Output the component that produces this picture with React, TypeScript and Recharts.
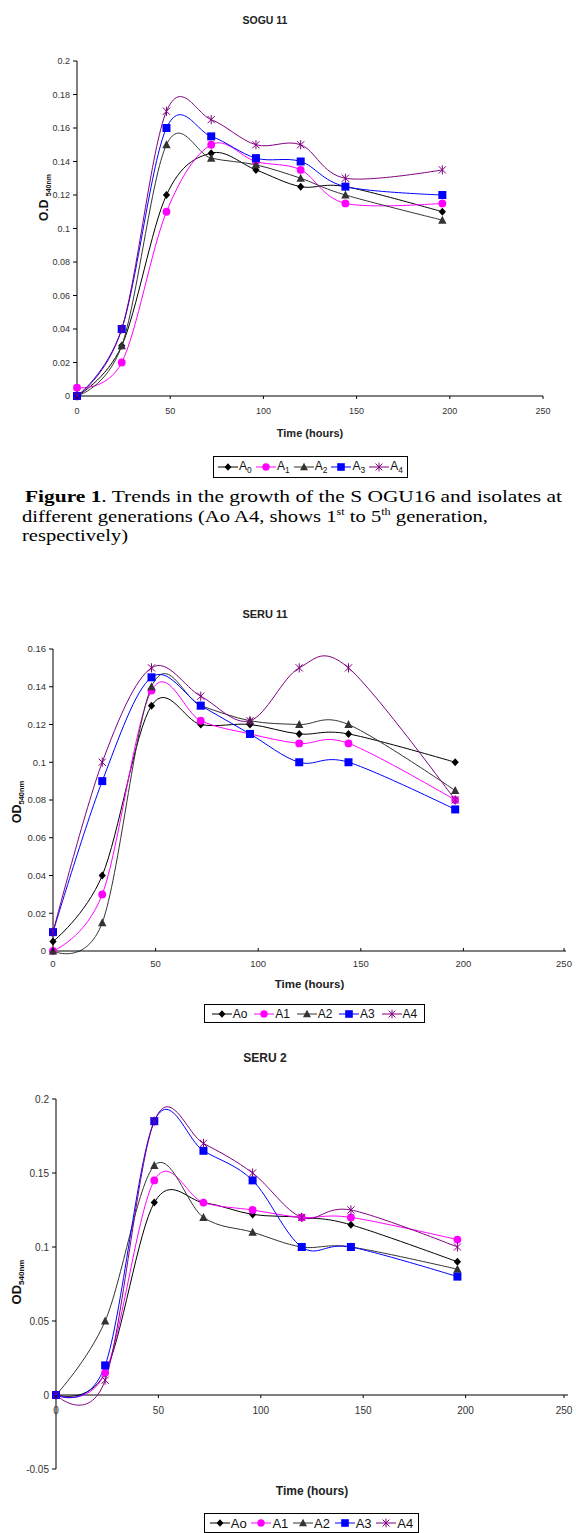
import React from "react";
import { LineChart, Line, XAxis, YAxis, ReferenceLine } from "recharts";

// sampling times (hours), shared by all three panels
const hours = [0, 24, 48, 72, 96, 120, 144, 196];
const xTicks = [0, 50, 100, 150, 200, 250];

// SOGU 11
const soguA0 = [0, 0.03, 0.12, 0.145, 0.135, 0.125, 0.125, 0.11];
const soguA1 = [0.005, 0.02, 0.11, 0.15, 0.14, 0.135, 0.115, 0.115];
const soguA2 = [0, 0.03, 0.15, 0.142, 0.138, 0.13, 0.12, 0.105];
const soguA3 = [0, 0.04, 0.16, 0.155, 0.142, 0.14, 0.125, 0.12];
const soguA4 = [0, 0.04, 0.17, 0.165, 0.15, 0.15, 0.13, 0.135];
const soguTicks = [0, 0.02, 0.04, 0.06, 0.08, 0.1, 0.12, 0.14, 0.16, 0.18, 0.2];

// SERU 11
const seru11A0 = [0.005, 0.04, 0.13, 0.12, 0.12, 0.115, 0.115, 0.1];
const seru11A1 = [0, 0.03, 0.138, 0.122, 0.115, 0.11, 0.11, 0.08];
const seru11A2 = [0, 0.015, 0.14, 0.13, 0.122, 0.12, 0.12, 0.085];
const seru11A3 = [0.01, 0.09, 0.145, 0.13, 0.115, 0.1, 0.1, 0.075];
const seru11A4 = [0.01, 0.1, 0.15, 0.135, 0.122, 0.15, 0.15, 0.08];
const seru11Ticks = [0, 0.02, 0.04, 0.06, 0.08, 0.1, 0.12, 0.14, 0.16];

// SERU 2
const seru2A0 = [0, 0.015, 0.13, 0.13, 0.122, 0.12, 0.115, 0.09];
const seru2A1 = [0, 0.015, 0.145, 0.13, 0.125, 0.12, 0.12, 0.105];
const seru2A2 = [0, 0.05, 0.155, 0.12, 0.11, 0.1, 0.1, 0.085];
const seru2A3 = [0, 0.02, 0.185, 0.165, 0.145, 0.1, 0.1, 0.08];
const seru2A4 = [0, 0.01, 0.185, 0.17, 0.15, 0.12, 0.125, 0.1];
const seru2Ticks = [-0.05, 0, 0.05, 0.1, 0.15, 0.2];

const seriesKeys = ["A0", "A1", "A2", "A3", "A4"];
const colors: Record<string, string> = {
  A0: "#000000",
  A1: "#FF00FF",
  A2: "#333333",
  A3: "#0000FF",
  A4: "#800080",
};

function buildRows(a0: number[], a1: number[], a2: number[], a3: number[], a4: number[]) {
  return hours.map((t, i) => ({ t, A0: a0[i], A1: a1[i], A2: a2[i], A3: a3[i], A4: a4[i] }));
}

// Excel style smoothed line (Catmull-Rom through bezier segments)
class SmoothCurve {
  _context: any;
  _k = 1 / 6;
  _line = NaN;
  _point = 0;
  _x0 = NaN; _x1 = NaN; _x2 = NaN;
  _y0 = NaN; _y1 = NaN; _y2 = NaN;
  constructor(context: any) {
    this._context = context;
  }
  areaStart() { this._line = 0; }
  areaEnd() { this._line = NaN; }
  lineStart() {
    this._x0 = this._x1 = this._x2 = this._y0 = this._y1 = this._y2 = NaN;
    this._point = 0;
  }
  seg(x: number, y: number) {
    this._context.bezierCurveTo(
      this._x1 + this._k * (this._x2 - this._x0),
      this._y1 + this._k * (this._y2 - this._y0),
      this._x2 + this._k * (this._x1 - x),
      this._y2 + this._k * (this._y1 - y),
      this._x2,
      this._y2
    );
  }
  lineEnd() {
    if (this._point === 2) this._context.lineTo(this._x2, this._y2);
    else if (this._point === 3) this.seg(this._x1, this._y1);
    if (this._line || (this._line !== 0 && this._point === 1)) this._context.closePath();
    this._line = 1 - this._line;
  }
  point(x: number, y: number) {
    x = +x; y = +y;
    if (this._point === 0) {
      this._point = 1;
      this._line ? this._context.lineTo(x, y) : this._context.moveTo(x, y);
    } else if (this._point === 1) {
      this._point = 2;
      this._x1 = x; this._y1 = y;
    } else {
      this._point = 3;
      this.seg(x, y);
    }
    this._x0 = this._x1; this._x1 = this._x2; this._x2 = x;
    this._y0 = this._y1; this._y1 = this._y2; this._y2 = y;
  }
}
const smooth: any = (context: any) => new SmoothCurve(context);

function Marker({ kind, cx, cy, s = 1 }: { kind: string; cx: number; cy: number; s?: number }) {
  const c = colors[kind];
  if (kind === "A0")
    return <polygon points={`${cx},${cy - 4 * s} ${cx + 3.6 * s},${cy} ${cx},${cy + 4 * s} ${cx - 3.6 * s},${cy}`} fill={c} />;
  if (kind === "A1") return <circle cx={cx} cy={cy} r={3.9 * s} fill={c} />;
  if (kind === "A2")
    return <polygon points={`${cx},${cy - 4.5 * s} ${cx + 4.2 * s},${cy + 3.5 * s} ${cx - 4.2 * s},${cy + 3.5 * s}`} fill={c} />;
  if (kind === "A3") return <rect x={cx - 4 * s} y={cy - 4 * s} width={8 * s} height={8 * s} fill={c} />;
  const r = 3.6 * s;
  return (
    <path
      d={`M${cx - r},${cy - r}L${cx + r},${cy + r}M${cx - r},${cy + r}L${cx + r},${cy - r}M${cx},${cy - 4.6 * s}L${cx},${cy + 4.6 * s}`}
      stroke={c}
      strokeWidth={1}
      fill="none"
    />
  );
}

type PanelProps = {
  top: number;
  height: number;
  title: string;
  titleY: number;
  titleSize: number;
  data: any[];
  yTicks: number[];
  yDomain: [number, number];
  yAxisWidth: number;
  margin: { top: number; right: number; left: number; bottom: number };
  font: string;
  tickSize: number;
  plotHeight: number;
  xTickDir: number;
  xLabelGap: number;
  xTitleGap: number;
  yTitleX: number;
  yTitleMain: string;
  yTitleSub: string;
  yTitleShift: number;
  legendLabels: React.ReactNode[];
  legendBox: { left: number; top: number; width: number; height: number; fontSize: number };
};

function Panel(p: PanelProps) {
  // x axis sits on the zero line, which is above the plot bottom when the domain goes negative
  const shift = (p.plotHeight * (0 - p.yDomain[0])) / (p.yDomain[1] - p.yDomain[0]);

  const XTick = (props: any) => {
    const { x, y, payload } = props;
    const y0 = y - shift;
    return (
      <g>
        <line x1={x} x2={x} y1={y0} y2={y0 + p.xTickDir * 3} stroke="#000" />
        <text x={x} y={y0 + p.xLabelGap} textAnchor="middle" fontSize={p.tickSize} fontFamily={p.font} fill="#333">
          {payload.value}
        </text>
      </g>
    );
  };

  return (
    <div style={{ position: "absolute", left: 0, top: p.top, width: 576, height: p.height }}>
      <div
        style={{
          position: "absolute",
          left: 0,
          width: 530,
          top: p.titleY - p.titleSize * 0.6,
          textAlign: "center",
          fontFamily: p.font,
          fontWeight: "bold",
          fontSize: p.titleSize,
          lineHeight: `${p.titleSize * 1.2}px`,
          color: "#222",
        }}
      >
        {p.title}
      </div>
      <LineChart width={576} height={p.height} data={p.data} margin={p.margin}>
        <XAxis
          dataKey="t"
          type="number"
          domain={[0, 250]}
          ticks={xTicks}
          height={30}
          tickSize={0}
          tickMargin={0}
          tickLine={false}
          axisLine={shift === 0 ? { stroke: "#000" } : false}
          tick={XTick}
          label={{
            content: ({ viewBox }: any) => (
              <text
                x={viewBox.x + viewBox.width / 2}
                y={viewBox.y + p.xTitleGap}
                textAnchor="middle"
                fontFamily={p.font}
                fontWeight="bold"
                fontSize={p.tickSize + 2}
                fill="#222"
              >
                Time (hours)
              </text>
            ),
          }}
        />
        <YAxis
          type="number"
          domain={p.yDomain}
          ticks={p.yTicks}
          width={p.yAxisWidth}
          interval={0}
          tickSize={4}
          tickMargin={3}
          axisLine={{ stroke: "#000" }}
          tickLine={{ stroke: "#000" }}
          tick={{ fontSize: p.tickSize, fontFamily: p.font, fill: "#333" }}
          label={{
            content: ({ viewBox }: any) => {
              const cy = viewBox.y + viewBox.height / 2 + p.yTitleShift;
              return (
                <text
                  x={p.yTitleX}
                  y={cy}
                  transform={`rotate(-90, ${p.yTitleX}, ${cy})`}
                  textAnchor="middle"
                  fontFamily={p.font}
                  fontWeight="bold"
                  fontSize={p.tickSize + 3}
                  fill="#111"
                >
                  {p.yTitleMain}
                  <tspan fontSize={p.tickSize - 2} dy={3}>
                    {p.yTitleSub}
                  </tspan>
                </text>
              );
            },
          }}
        />
        {shift > 0 && <ReferenceLine y={0} stroke="#000" />}
        {seriesKeys.map((k) => (
          <Line
            key={k}
            dataKey={k}
            type={smooth}
            stroke={colors[k]}
            strokeWidth={1}
            isAnimationActive={false}
            activeDot={false}
            dot={(d: any) => <Marker key={`${k}-${d.index}`} kind={k} cx={d.cx} cy={d.cy} />}
          />
        ))}
      </LineChart>
      <div
        style={{
          position: "absolute",
          left: p.legendBox.left,
          top: p.legendBox.top,
          width: p.legendBox.width,
          height: p.legendBox.height,
          boxSizing: "border-box",
          border: "1px solid #000",
          display: "flex",
          alignItems: "center",
          justifyContent: "space-evenly",
          fontFamily: p.font,
          fontSize: p.legendBox.fontSize,
          color: "#111",
        }}
      >
        {seriesKeys.map((k, i) => (
          <span key={k} style={{ display: "flex", alignItems: "center" }}>
            <svg width={20} height={12}>
              <line x1={0} x2={20} y1={6} y2={6} stroke={colors[k]} />
              <Marker kind={k} cx={10} cy={6} s={0.95} />
            </svg>
            <span style={{ marginLeft: 1 }}>{p.legendLabels[i]}</span>
          </span>
        ))}
      </div>
    </div>
  );
}

const sans = "'Liberation Sans', Arial, sans-serif";
const serif = "'Liberation Serif', 'Times New Roman', serif";

const subLabels = seriesKeys.map((k) => (
  <span key={k}>
    A<sub style={{ fontSize: "0.7em" }}>{k.slice(1)}</sub>
  </span>
));
const plainLabels = ["Ao", "A1", "A2", "A3", "A4"];

function Caption() {
  return (
    <svg width={576} height={70} style={{ position: "absolute", left: 0, top: 480 }}>
      <text x={25} y={22} fontFamily={serif} fontSize={17} textLength={537} lengthAdjust="spacingAndGlyphs">
        <tspan fontWeight="bold">Figure 1</tspan>. Trends in the growth of the S OGU16 and isolates at
      </text>
      <text x={22} y={41.5} fontFamily={serif} fontSize={17} textLength={466} lengthAdjust="spacingAndGlyphs">
        different generations (Ao A4, shows 1
        <tspan fontSize={10} dy={-7}>st</tspan>
        <tspan dy={7}> to 5</tspan>
        <tspan fontSize={10} dy={-7}>th</tspan>
        <tspan dy={7}> generation,</tspan>
      </text>
      <text x={22} y={61} fontFamily={serif} fontSize={17} textLength={106} lengthAdjust="spacingAndGlyphs">
        respectively)
      </text>
    </svg>
  );
}

export default function App() {
  return (
    <div style={{ position: "absolute", left: 0, top: 0, width: 576, height: 1533, background: "#fff" }}>
      <Panel
        top={0}
        height={480}
        title="SOGU 11"
        titleY={20}
        titleSize={10.5}
        data={buildRows(soguA0, soguA1, soguA2, soguA3, soguA4)}
        yTicks={soguTicks}
        yDomain={[0, 0.2]}
        yAxisWidth={77}
        margin={{ top: 61, right: 33, left: 0, bottom: 54 }}
        plotHeight={335}
        font={sans}
        tickSize={9}
        xTickDir={1}
        xLabelGap={18}
        xTitleGap={41}
        yTitleX={48}
        yTitleMain="O.D "
        yTitleSub="540nm"
        yTitleShift={-31}
        legendLabels={subLabels}
        legendBox={{ left: 213, top: 456, width: 195, height: 22, fontSize: 12 }}
      />

      <Caption />

      <Panel
        top={600}
        height={430}
        title="SERU 11"
        titleY={15}
        titleSize={11}
        data={buildRows(seru11A0, seru11A1, seru11A2, seru11A3, seru11A4)}
        yTicks={seru11Ticks}
        yDomain={[0, 0.16]}
        yAxisWidth={53}
        margin={{ top: 49, right: 10, left: 0, bottom: 49 }}
        plotHeight={302}
        font={sans}
        tickSize={9.5}
        xTickDir={-1}
        xLabelGap={16}
        xTitleGap={37}
        yTitleX={21}
        yTitleMain="OD"
        yTitleSub="540nm"
        yTitleShift={2}
        legendLabels={plainLabels}
        legendBox={{ left: 204, top: 1004 - 600, width: 221, height: 19, fontSize: 12 }}
      />

      <Panel
        top={1040}
        height={493}
        title="SERU 2"
        titleY={18}
        titleSize={12}
        data={buildRows(seru2A0, seru2A1, seru2A2, seru2A3, seru2A4)}
        yTicks={seru2Ticks}
        yDomain={[-0.05, 0.2]}
        yAxisWidth={56}
        margin={{ top: 59, right: 8, left: 0, bottom: 34 }}
        plotHeight={370}
        font={sans}
        tickSize={10}
        xTickDir={1}
        xLabelGap={19}
        xTitleGap={26}
        yTitleX={21}
        yTitleMain="OD"
        yTitleSub="540nm"
        yTitleShift={-2}
        legendLabels={plainLabels}
        legendBox={{ left: 204, top: 1513 - 1040, width: 215, height: 20, fontSize: 13 }}
      />
    </div>
  );
}
